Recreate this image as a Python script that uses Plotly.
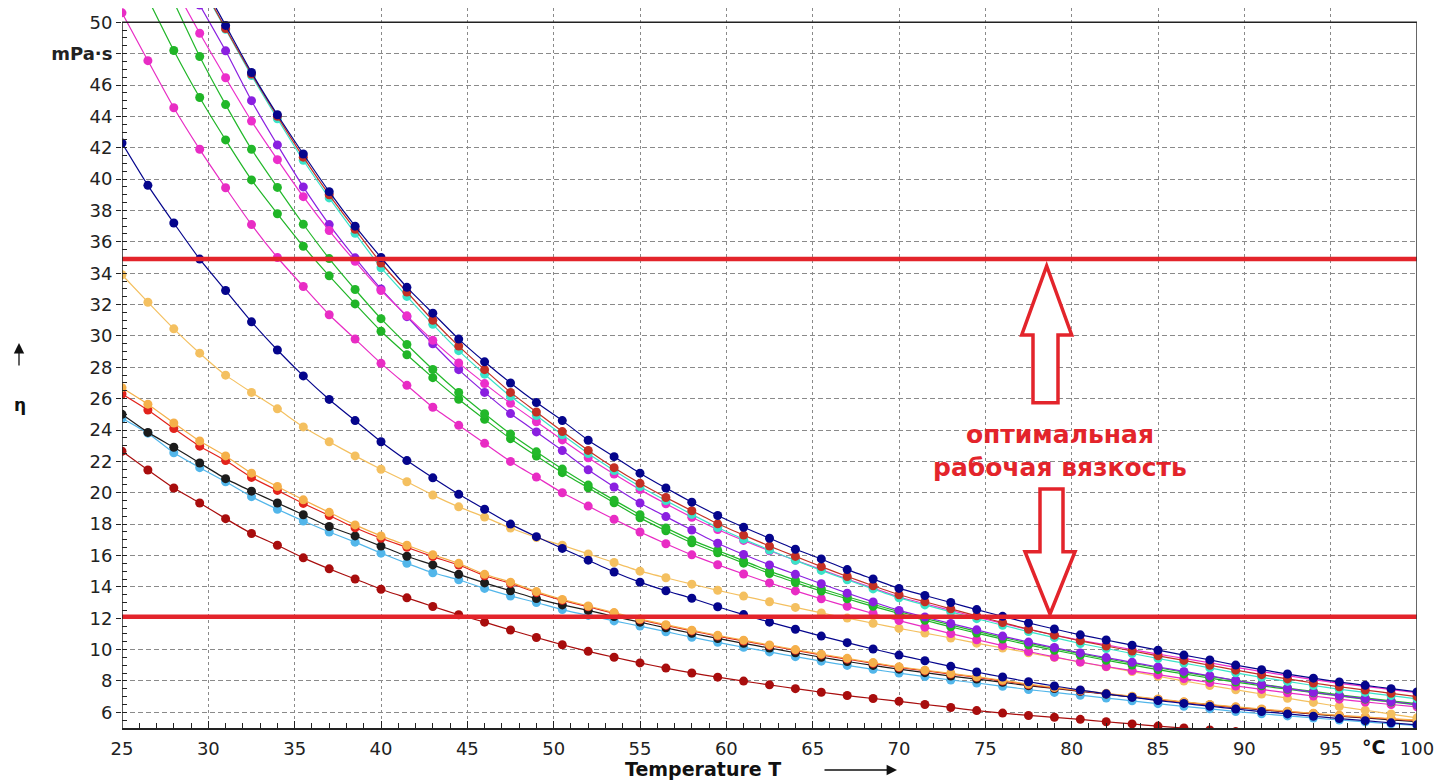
import plotly.graph_objects as go
import numpy as np

# ---------------- data ----------------
temperature = [25, 26.5, 28, 29.5, 31, 32.5, 34, 35.5, 37, 38.5, 40, 41.5, 43, 44.5, 46, 47.5, 49,
               50.5, 52, 53.5, 55, 56.5, 58, 59.5, 61, 62.5, 64, 65.5, 67, 68.5, 70, 71.5, 73, 74.5,
               76, 77.5, 79, 80.5, 82, 83.5, 85, 86.5, 88, 89.5, 91, 92.5, 94, 95.5, 97, 98.5, 100]

navy_top = [None, None, None, 52.8, 49.8, 46.8, 44.1, 41.6, 39.2, 37.0, 35.0, 33.1, 31.45, 29.8, 28.35,
            27.0, 25.75, 24.6, 23.35, 22.3, 21.25, 20.3, 19.4, 18.55, 17.8, 17.1, 16.4, 15.78, 15.1, 14.5,
            13.9, 13.45, 13.0, 12.55, 12.12, 11.7, 11.31, 10.94, 10.61, 10.28, 9.96, 9.65, 9.34, 9.01,
            8.72, 8.44, 8.18, 7.93, 7.72, 7.51, 7.3]
brick = [None, None, None, 52.6, 49.6, 46.7, 44.0, 41.4, 39.0, 36.8, 34.65, 32.8, 31.0, 29.35, 27.85,
         26.4, 25.15, 23.9, 22.7, 21.6, 20.6, 19.7, 18.85, 18.02, 17.3, 16.6, 15.94, 15.29, 14.66, 14.07,
         13.5, 13.05, 12.6, 12.15, 11.72, 11.3, 10.92, 10.56, 10.23, 9.91, 9.6, 9.31, 9.0, 8.69,
         8.4, 8.13, 7.87, 7.63, 7.42, 7.21, 7.0]
turquoise = [None, None, None, 52.5, 49.55, 46.6, 43.85, 41.2, 38.8, 36.54, 34.35, 32.52, 30.74, 29.06, 27.56,
             26.15, 24.92, 23.7, 22.5, 21.42, 20.4, 19.5, 18.62, 17.78, 17.04, 16.35, 15.69, 15.05, 14.45,
             13.87, 13.3, 12.85, 12.4, 11.97, 11.55, 11.15, 10.76, 10.39, 10.07, 9.75, 9.43, 9.14, 8.83,
             8.52, 8.23, 7.97, 7.71, 7.47, 7.27, 7.06, 6.86]
magenta_1 = [None, None, 52.3, 49.3, 46.46, 43.7, 41.24, 38.88, 36.72, 34.76, 32.9, 31.28, 29.72, 28.28,
             26.96, 25.7, 24.53, 23.37, 22.23, 21.19, 20.2, 19.3, 18.44, 17.66, 16.96, 16.3, 15.7, 15.1,
             14.5, 13.92, 13.35, 12.92, 12.5, 12.07, 11.67, 11.28, 10.93, 10.59, 10.3, 10.0, 9.71, 9.44,
             9.16, 8.87, 8.6, 8.34, 8.09, 7.85, 7.66, 7.45, 7.25]
purple = [None, None, None, 51.1, 48.18, 45.0, 42.18, 39.5, 37.1, 34.98, 33.0, 31.23, 29.5, 27.85, 26.4,
          25.05, 23.88, 22.69, 21.46, 20.37, 19.35, 18.48, 17.62, 16.78, 16.06, 15.4, 14.8, 14.2, 13.6,
          13.04, 12.5, 12.08, 11.66, 11.26, 10.86, 10.48, 10.13, 9.79, 9.49, 9.19, 8.89, 8.61, 8.33,
          8.03, 7.77, 7.52, 7.28, 7.06, 6.87, 6.69, 6.5]
green_1 = [None, None, 51.3, 47.82, 44.75, 41.9, 39.47, 37.12, 34.93, 32.96, 31.1, 29.45, 27.86, 26.39,
           25.04, 23.75, 22.61, 21.51, 20.49, 19.53, 18.6, 17.76, 16.98, 16.32, 15.66, 15.0, 14.43, 13.88,
           13.37, 12.89, 12.42, 11.99, 11.57, 11.16, 10.78, 10.41, 10.07, 9.74, 9.42, 9.13, 8.84, 8.56,
           8.29, 8.04, 7.79, 7.55, 7.33, 7.11, 6.92, 6.73, 6.55]
green_2 = [None, 51.5, 48.2, 45.2, 42.5, 39.95, 37.79, 35.72, 33.83, 32.04, 30.3, 28.8, 27.34, 25.96, 24.68,
           23.45, 22.34, 21.28, 20.32, 19.36, 18.4, 17.58, 16.81, 16.17, 15.51, 14.85, 14.28, 13.73, 13.24,
           12.76, 12.3, 11.87, 11.45, 11.05, 10.67, 10.3, 9.96, 9.64, 9.32, 9.02, 8.72, 8.45, 8.18, 7.93,
           7.69, 7.47, 7.25, 7.04, 6.84, 6.66, 6.48]
magenta_2 = [50.6, 47.55, 44.55, 41.9, 39.45, 37.1, 35.0, 33.15, 31.35, 29.8, 28.25, 26.85, 25.45, 24.3,
             23.15, 22.0, 21.0, 20.0, 19.15, 18.31, 17.5, 16.75, 16.04, 15.41, 14.82, 14.25, 13.74, 13.24,
             12.76, 12.3, 11.85, 11.43, 11.02, 10.63, 10.25, 9.88, 9.53, 9.21, 8.92, 8.66, 8.4, 8.15, 7.9,
             7.68, 7.46, 7.24, 7.04, 6.84, 6.66, 6.5, 6.35]
navy_low = [42.3, 39.6, 37.2, 34.9, 32.9, 30.9, 29.1, 27.45, 25.95, 24.6, 23.25, 22.05, 20.95, 19.9, 18.95,
            18.0, 17.2, 16.45, 15.7, 14.95, 14.3, 13.75, 13.27, 12.73, 12.23, 11.75, 11.3, 10.86, 10.44,
            10.04, 9.65, 9.29, 8.93, 8.57, 8.25, 7.95, 7.68, 7.42, 7.18, 6.96, 6.75, 6.57, 6.39, 6.21,
            6.05, 5.9, 5.75, 5.6, 5.47, 5.33, 5.2]
orange_1 = [33.9, 32.15, 30.45, 28.9, 27.5, 26.4, 25.35, 24.2, 23.25, 22.35, 21.5, 20.7, 19.85, 19.1, 18.45,
            17.75, 17.15, 16.65, 16.1, 15.55, 15.0, 14.58, 14.17, 13.78, 13.41, 13.05, 12.69, 12.34, 12.01,
            11.68, 11.35, 11.05, 10.74, 10.41, 10.1, 9.8, 9.5, 9.2, 8.9, 8.6, 8.3, 8.0, 7.71, 7.44, 7.17,
            6.9, 6.63, 6.37, 6.13, 5.89, 5.65]
orange_2 = [26.7, 25.65, 24.45, 23.3, 22.35, 21.25, 20.4, 19.55, 18.75, 17.95, 17.25, 16.65, 16.05, 15.5,
            14.8, 14.3, 13.7, 13.2, 12.78, 12.36, 11.95, 11.59, 11.24, 10.91, 10.6, 10.3, 10.0, 9.71, 9.44,
            9.17, 8.9, 8.69, 8.48, 8.27, 8.04, 7.8, 7.59, 7.39, 7.21, 7.03, 6.85, 6.67, 6.5, 6.35, 6.21,
            6.07, 5.94, 5.81, 5.71, 5.6, 5.5]
red_2 = [26.3, 25.28, 24.1, 22.97, 22.05, 20.98, 20.15, 19.32, 18.55, 17.77, 17.1, 16.52, 15.93, 15.39,
         14.71, 14.22, 13.63, 13.14, 12.73, 12.31, 11.9, 11.54, 11.19, 10.86, 10.55, 10.25, 9.95, 9.66,
         9.39, 9.12, 8.86, 8.65, 8.44, 8.23, 8.0, 7.76, 7.56, 7.36, 7.18, 7.0, 6.82, 6.64, 6.47, 6.32,
         6.18, 6.04, 5.91, 5.78, 5.68, 5.57, 5.47]
black = [25.0, 23.85, 22.9, 21.9, 20.9, 20.1, 19.35, 18.6, 17.85, 17.25, 16.6, 15.95, 15.4, 14.8, 14.25,
         13.75, 13.25, 12.85, 12.5, 12.11, 11.75, 11.39, 11.04, 10.71, 10.4, 10.1, 9.8, 9.51, 9.24, 8.99,
         8.75, 8.53, 8.31, 8.12, 7.91, 7.7, 7.52, 7.34, 7.16, 6.98, 6.8, 6.63, 6.47, 6.3, 6.16, 6.02,
         5.89, 5.76, 5.64, 5.52, 5.4]
light_blue = [24.75, 23.8, 22.55, 21.6, 20.7, 19.75, 18.95, 18.2, 17.5, 16.85, 16.15, 15.5, 14.9, 14.45,
              13.9, 13.42, 13.0, 12.55, 12.18, 11.83, 11.5, 11.14, 10.79, 10.46, 10.15, 9.85, 9.55, 9.26,
              8.99, 8.74, 8.5, 8.28, 8.06, 7.87, 7.66, 7.45, 7.27, 7.09, 6.91, 6.73, 6.55, 6.38, 6.22, 6.05,
              5.91, 5.77, 5.64, 5.51, 5.39, 5.27, 5.15]
maroon = [22.65, 21.45, 20.3, 19.35, 18.35, 17.4, 16.65, 15.85, 15.15, 14.5, 13.85, 13.3, 12.75, 12.22,
          11.75, 11.25, 10.77, 10.31, 9.89, 9.51, 9.15, 8.82, 8.51, 8.24, 7.99, 7.75, 7.51, 7.28, 7.07,
          6.88, 6.7, 6.5, 6.31, 6.11, 5.95, 5.8, 5.68, 5.55, 5.4, 5.26, 5.12, 5.0, 4.88, 4.77, 4.67, 4.57,
          4.48, 4.39, 4.31, 4.23, 4.15]

viscosity_limits = [12.1, 34.9]          # optimal working viscosity band (mPa·s)

x_tick_values = [25, 30, 35, 40, 45, 50, 55, 60, 65, 70, 75, 80, 85, 90, 95, 100]
x_tick_labels = ["25", "30", "35", "40", "45", "50", "55", "60", "65", "70", "75", "80", "85", "90", "95", "100"]
y_tick_values = [6, 8, 10, 12, 14, 16, 18, 20, 22, 24, 26, 28, 30, 32, 34, 36, 38, 40, 42, 44, 46, 48, 50]
y_tick_labels = ["6", "8", "10", "12", "14", "16", "18", "20", "22", "24", "26", "28", "30", "32", "34",
                 "36", "38", "40", "42", "44", "46", "<b>mPa·s</b>", "50"]

series = [
    ("maroon", maroon, "#a80d0d"),
    ("light blue", light_blue, "#52b6ea"),
    ("black", black, "#1c1c1c"),
    ("red", red_2, "#e2231c"),
    ("orange", orange_2, "#f5b04a"),
    ("light orange", orange_1, "#f4c060"),
    ("navy 2", navy_low, "#05058c"),
    ("magenta 2", magenta_2, "#e82cc4"),
    ("green 2", green_2, "#1fb526"),
    ("green 1", green_1, "#22b82a"),
    ("purple", purple, "#8a1fe0"),
    ("magenta 1", magenta_1, "#ec2ecb"),
    ("turquoise", turquoise, "#3ae3c8"),
    ("brick", brick, "#c43024"),
    ("navy 1", navy_top, "#05058c"),
]
for _n, _v, _c in series:
    assert len(_v) == len(temperature), _n

# ---------------- geometry helpers (pixel -> paper) ----------------
W, H = 1439, 780
L, R, T, B = 122, 22, 8, 52
PW, PH = W - L - R, H - T - B


def pxx(px):
    return (px - L) / PW


def pxy(py):
    return (H - B - py) / PH


FONT = "DejaVu Sans"
RED = "#e3242b"

fig = go.Figure()
for name, vals, col in series:
    fig.add_trace(go.Scatter(
        x=temperature, y=vals, mode="lines+markers", name=name,
        line=dict(color=col, width=1.2, shape="spline", smoothing=0.5),
        marker=dict(color=col, size=9, line=dict(width=0)),
        connectgaps=False, showlegend=False, hoverinfo="x+y"))

shapes = []
for v in viscosity_limits:
    shapes.append(dict(type="line", xref="x", yref="y", x0=25, x1=100, y0=v, y1=v,
                       line=dict(color=RED, width=4.5), layer="above"))
shapes.append(dict(type="line", xref="x", yref="y", x0=25, x1=100, y0=50, y1=50,
                   line=dict(color="#222", width=1.5), layer="above"))
shapes.append(dict(type="line", xref="x", yref="y", x0=25, x1=25, y0=5, y1=50,
                   line=dict(color="#222", width=1.5), layer="above"))
shapes.append(dict(type="line", xref="x", yref="y", x0=100, x1=100, y0=5, y1=50,
                   line=dict(color="#333", width=1.5), layer="above"))


def poly(points):
    return "M " + " L ".join(f"{pxx(a):.5f},{pxy(b):.5f}" for a, b in points) + " Z"


up_arrow = [(1046.7, 266), (1071.7, 335), (1058, 335), (1058, 402.7), (1033, 402.7), (1033, 335), (1021.7, 335)]
down_arrow = [(1040, 489), (1063, 489), (1063, 551.7), (1075, 551.7), (1050, 614), (1025, 551.7), (1040, 551.7)]
for pts in (up_arrow, down_arrow):
    shapes.append(dict(type="path", xref="paper", yref="paper", path=poly(pts),
                       line=dict(color=RED, width=3.5), fillcolor="white", layer="above"))

annotations = [
    dict(xref="paper", yref="paper", x=pxx(1060), y=pxy(451), text="<b>оптимальная<br>рабочая вязкость</b>",
         showarrow=False, font=dict(family=FONT, size=25, color=RED), align="center",
         xanchor="center", yanchor="middle"),
    dict(xref="paper", yref="paper", x=pxx(1373), y=pxy(747), text="<b>°C</b>", showarrow=False,
         font=dict(family=FONT, size=19, color="#111"), xanchor="center", yanchor="middle"),
    dict(xref="paper", yref="paper", x=pxx(703), y=pxy(769), text="<b>Temperature T</b>", showarrow=False,
         font=dict(family=FONT, size=19, color="#111"), xanchor="center", yanchor="middle"),
    dict(xref="paper", yref="paper", x=pxx(897), y=pxy(770), text="", showarrow=True,
         ax=-74, ay=0, arrowhead=2, arrowsize=1.6, arrowwidth=1.3, arrowcolor="#111"),
    dict(xref="paper", yref="paper", x=pxx(19), y=pxy(343), text="", showarrow=True,
         ax=0, ay=24, arrowhead=2, arrowsize=1.6, arrowwidth=1.3, arrowcolor="#111"),
    dict(xref="paper", yref="paper", x=pxx(20), y=pxy(405), text="<b>η</b>", showarrow=False,
         font=dict(family=FONT, size=17, color="#111"), xanchor="center", yanchor="middle"),
]

fig.update_layout(
    width=W, height=H,
    margin=dict(l=L, r=R, t=T, b=B, pad=0, autoexpand=False),
    paper_bgcolor="white", plot_bgcolor="white",
    shapes=shapes, annotations=annotations,
    font=dict(family=FONT, size=18, color="#222"),
    xaxis=dict(range=[25, 100], tickmode="array", tickvals=x_tick_values, ticktext=x_tick_labels,
               automargin=False,
               showline=True, linecolor="#222", linewidth=1.5,
               ticks="inside", ticklen=7, tickcolor="#222", ticklabelstandoff=4,
               showgrid=True, gridcolor="#8a8a8a", gridwidth=1, griddash="3px,3px",
               minor=dict(ticks="inside", ticklen=5, dtick=1, tick0=25, tickcolor="#222", showgrid=False),
               zeroline=False, tickfont=dict(family=FONT, size=18, color="#222")),
    yaxis=dict(range=[5, 50.91], tickmode="array", tickvals=y_tick_values, ticktext=y_tick_labels,
               automargin=False, showline=False,
               ticks="outside", ticklen=5, tickcolor="#222",
               showgrid=True, gridcolor="#8a8a8a", gridwidth=1, griddash="5px,3px",
               minor=dict(ticks="inside", ticklen=5, tickmode="array",
                          tickvals=list(np.arange(5, 50.01, 0.5)), tickcolor="#222", showgrid=False),
               zeroline=False, tickfont=dict(family=FONT, size=18, color="#222")),
)

fig.write_html("out.html", config={"displayModeBar": False},
               post_script="document.body.style.margin='0';document.body.style.overflow='hidden';")
